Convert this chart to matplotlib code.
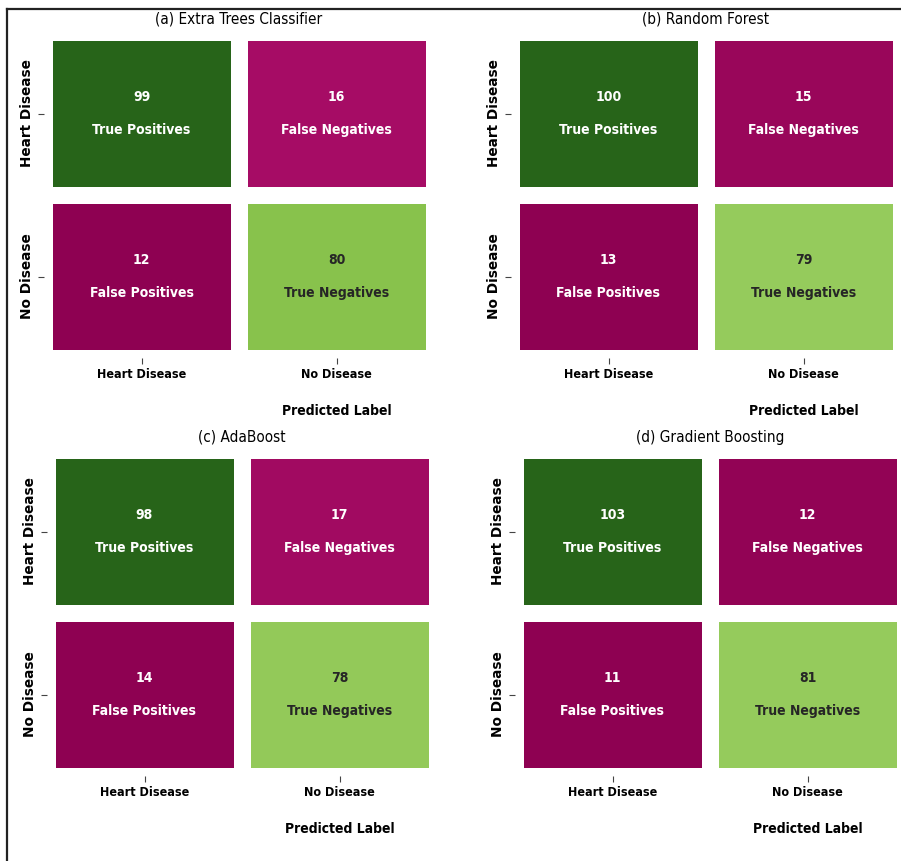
import numpy as np
import matplotlib
matplotlib.use('Agg')
import matplotlib.pyplot as plt
from matplotlib.lines import Line2D
import seaborn as sns

# confusion matrices: [[TP, FN], [FP, TN]]
titles = ['(a) Extra Trees Classifier', '(b) Random Forest',
          '(c) AdaBoost', '(d) Gradient Boosting']
extra_trees = [[99, 16], [12, 80]]
random_forest = [[100, 15], [13, 79]]
adaboost = [[98, 17], [14, 78]]
gradient_boosting = [[103, 12], [11, 81]]
class_labels = ['Heart Disease', 'No Disease']
cell_names = [['True Positives', 'False Negatives'],
              ['False Positives', 'True Negatives']]

plt.rcParams['font.family'] = 'DejaVu Sans'
plt.rcParams['font.stretch'] = 'condensed'

W, H = 901, 861
fig = plt.figure(figsize=(W / 100, H / 100), dpi=100)

# axes boxes in pixels (x0, y0 from top); same size for all
boxes = [(44, 32), (511, 32), (47, 450), (515, 450)]
aw, ah = 390, 326

matrices = [extra_trees, random_forest, adaboost, gradient_boosting]
for title, cm, (x0, y0) in zip(titles, matrices, boxes):
    ax = fig.add_axes([x0 / W, (H - y0 - ah) / H, aw / W, ah / H])
    cm = np.array(cm)
    annot = np.array([[f'{cm[i, j]}\n\n{cell_names[i][j]}' for j in range(2)]
                      for i in range(2)])
    sns.heatmap(cm, annot=annot, fmt='', cmap='PiYG', cbar=False,
                linewidths=12, linecolor='white',
                annot_kws={'fontsize': 10, 'fontweight': 'bold', 'linespacing': 1.2},
                xticklabels=class_labels, yticklabels=class_labels, ax=ax)
    ax.set_title(title, fontsize=11)
    ax.set_xticklabels(class_labels, fontsize=9, fontweight='bold', rotation=0)
    ax.set_yticklabels(class_labels, fontsize=9.8, fontweight='bold',
                       fontstretch='normal', rotation=90, va='center')
    ax.tick_params(length=4, width=0.8, color='#444444')
    ax.set_xlabel('Predicted Label', fontsize=10, fontweight='bold')
    ax.xaxis.set_label_coords(0.75, -0.14)

# frame lines along the top and left edges
fig.add_artist(Line2D([7 / W, 1], [1 - 9 / H, 1 - 9 / H], color='#222222', lw=1.6))
fig.add_artist(Line2D([7 / W, 7 / W], [0, 1 - 9 / H], color='#222222', lw=1.6))

fig.savefig('out.png', dpi=100, facecolor='white')
